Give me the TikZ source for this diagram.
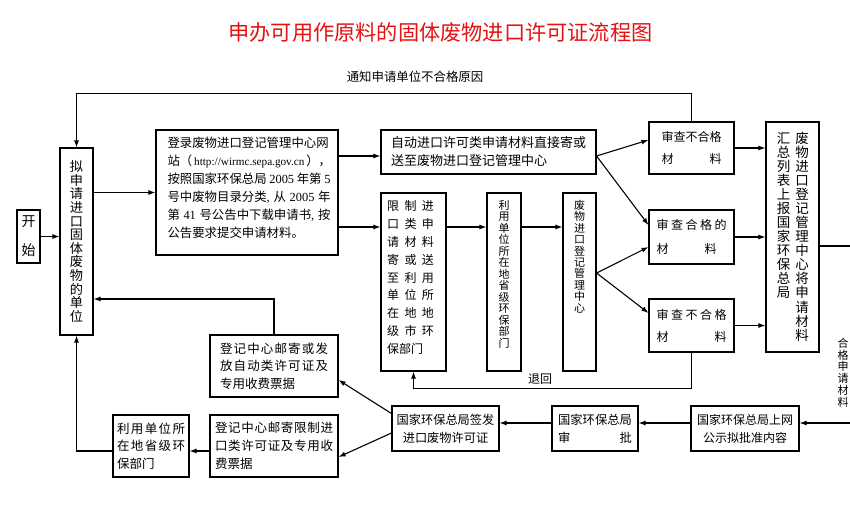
\documentclass[tikz,border=0pt]{standalone}
\usepackage{fontspec}
\setmainfont{Noto Sans CJK SC}
\newfontfamily\lat{Liberation Serif}
\usetikzlibrary{arrows.meta,calc}
\definecolor{titlered}{RGB}{228,18,18}
\def\spreadaux#1#2{#1\ifx\relax#2\else\hfill\expandafter\spreadaux\expandafter#2\fi}
\newcommand\spreadto[2]{\makebox[#1][s]{\spreadaux#2\relax}}
\begin{document}
\begin{tikzpicture}[x=1pt,y=-1pt,
  box/.style={draw, line width=1.1pt, inner sep=0pt},
  arr/.style={line width=1.1pt, -{Latex[length=7pt,width=5pt]}},
  txt/.style={inner sep=0pt, align=left},
  vtxt/.style={inner sep=0pt, align=center},
]
\useasboundingbox[fill=white] (0,0) rectangle (850,527);

% title and labels
\node[font=\fontsize{21.2}{21.2}\selectfont, text=titlered, inner sep=0pt] (title) at (440.5,32) {申办可用作原料的固体废物进口许可证流程图};
\node[font=\fontsize{12.4}{12.4}\selectfont, inner sep=0pt] (notice) at (415,77) {通知申请单位不合格原因};
\node[font=\fontsize{12}{12}\selectfont, inner sep=0pt] (back) at (540,379) {退回};
\node[vtxt, font=\fontsize{11}{11.8}\selectfont] (qual) at (843,372.5) {合\\格\\申\\请\\材\\料};

% left column
\node[box, minimum width=23pt, minimum height=53pt, font=\fontsize{14}{29}\selectfont, align=center] (start) at (28.5,236.5) {开\\始};
\node[box, minimum width=33pt, minimum height=187pt, font=\fontsize{13.2}{13.6}\selectfont, align=center] (apply) at (76.5,241.5) {拟\\申\\请\\进\\口\\固\\体\\废\\物\\的\\单\\位};

% login box
\node[box, minimum width=182pt, minimum height=125pt] (login) at (247,192.5) {};
\node[txt, font=\fontsize{12.4}{18}\selectfont] (loginT) at (249,188) {登录废物进口登记管理中心网\\
\makebox[163pt][s]{站（ {\lat\fontsize{11.2}{18}\selectfont http://wirmc.sepa.gov.cn} ），}\\
\makebox[163pt][s]{按照国家环保总局 {\lat 2005} 年第 {\lat 5}}\\
\makebox[163pt][s]{号中废物目录分类{\lat ,} 从 {\lat 2005} 年}\\
\makebox[163pt][s]{第 {\lat 41} 号公告中下载申请书{\lat ,} 按}\\
公告要求提交申请材料。};

% auto box
\node[box, minimum width=215pt, minimum height=44pt, font=\fontsize{13}{18}\selectfont, align=left] (auto) at (488.5,152) {自动进口许可类申请材料直接寄或\\送至废物进口登记管理中心};

% restrict box
\node[box, minimum width=65pt, minimum height=178pt] (restrict) at (413.5,282) {};
\node[txt, font=\fontsize{12}{17.9}\selectfont] (restrictT) at (410.5,277.5) {\spreadto{47pt}{限制进}\\\spreadto{47pt}{口类申}\\\spreadto{47pt}{请材料}\\\spreadto{47pt}{寄或送}\\\spreadto{47pt}{至利用}\\\spreadto{47pt}{单位所}\\\spreadto{47pt}{在地地}\\\spreadto{47pt}{级市环}\\保部门};

% provincial dept box
\node[box, minimum width=34pt, minimum height=178pt] (prov) at (504,282) {};
\node[vtxt, font=\fontsize{11}{11.5}\selectfont] (provT) at (504,274) {利\\用\\单\\位\\所\\在\\地\\省\\级\\环\\保\\部\\门};

% registration centre box
\node[box, minimum width=33pt, minimum height=178pt] (center) at (579.5,282) {};
\node[vtxt, font=\fontsize{11}{11.44}\selectfont] (centerT) at (579.5,256.5) {废\\物\\进\\口\\登\\记\\管\\理\\中\\心};

% review boxes
\node[box, minimum width=85pt, minimum height=52pt, font=\fontsize{12}{22}\selectfont, align=center] (rej1) at (691.5,148) {审查不合格\\\spreadto{60pt}{材料}};
\node[box, minimum width=85pt, minimum height=54pt, font=\fontsize{12}{24}\selectfont, align=left] (ok) at (691.5,237) {\spreadto{70pt}{审查合格的}\\\spreadto{60pt}{材料}};
\node[box, minimum width=85pt, minimum height=53pt, font=\fontsize{12}{22}\selectfont, align=center] (rej2) at (691.5,325.5) {\spreadto{70pt}{审查不合格}\\\spreadto{70pt}{材料}};

% summary box
\node[box, minimum width=53pt, minimum height=230pt] (summary) at (792.5,237) {};
\node[vtxt, font=\fontsize{13.5}{14.07}\selectfont] (sumR) at (802,236.5) {废\\物\\进\\口\\登\\记\\管\\理\\中\\心\\将\\申\\请\\材\\料};
\node[vtxt, font=\fontsize{13.5}{14.07}\selectfont] (sumL) at (783.5,215.5) {汇\\总\\列\\表\\上\\报\\国\\家\\环\\保\\总\\局};

% bottom row
\node[box, minimum width=108pt, minimum height=45pt, font=\fontsize{12}{18}\selectfont, align=center] (publicize) at (745,428.5) {国家环保总局上网\\公示拟批准内容};
\node[box, minimum width=86pt, minimum height=45pt, font=\fontsize{12.3}{18}\selectfont, align=center] (approve) at (595,428.5) {国家环保总局\\\spreadto{74pt}{审批}};
\node[box, minimum width=107pt, minimum height=45pt, font=\fontsize{12.2}{18}\selectfont, align=center] (issue) at (445.5,428.5) {国家环保总局签发\\进口废物许可证};
\node[box, minimum width=128pt, minimum height=62pt, font=\fontsize{12.5}{17.5}\selectfont, align=left] (mail1) at (274,366) {\spreadto{108pt}{登记中心邮寄或发}\\\spreadto{108pt}{放自动类许可证及}\\专用收费票据};
\node[box, minimum width=128pt, minimum height=62pt, font=\fontsize{12.5}{18}\selectfont, align=left] (mail2) at (274,446) {\spreadto{118pt}{登记中心邮寄限制进}\\\spreadto{118pt}{口类许可证及专用收}\\费票据};
\node[box, minimum width=76pt, minimum height=62pt, font=\fontsize{12.5}{17.5}\selectfont, align=left] (local) at (151,446) {\spreadto{68pt}{利用单位所}\\\spreadto{68pt}{在地省级环}\\保部门};

% connectors
\draw[arr] (start.east) -- (start.east -| apply.west);
\draw[arr] (apply.east |- login.west) -- (login.west);
\coordinate (la) at ([yshift=36.5pt]login.east);
\coordinate (lb) at ([yshift=-34.5pt]login.east);
\draw[arr] (la) -- (la -| auto.west);
\draw[arr] (lb) -- (lb -| restrict.west);
\draw[arr] (restrict.east |- lb) -- (prov.west |- lb);
\draw[arr] (prov.east |- lb) -- (center.west |- lb);
\coordinate (ao) at ([yshift=-4pt]auto.east);
\draw[arr] (ao) -- ([yshift=8pt]rej1.west);
\draw[arr] (ao) -- ([yshift=12pt]ok.west);
\coordinate (co) at ([yshift=9pt]center.east);
\draw[arr] (co) -- ([yshift=-10pt]ok.west);
\draw[arr] (co) -- ([yshift=12.5pt]rej2.west);
\draw[arr] (rej1.east) -- (rej1.east -| summary.west);
\draw[arr] (ok.east) -- (ok.east -| summary.west);
\draw[arr] (rej2.east) -- (rej2.east -| summary.west);
\draw[arr] (rej1.north) -- ++(0,-28) -| (apply.north);
\draw[arr] (rej2.south) -- ++(0,36) -| (restrict.south);
\coordinate (so) at ([yshift=-9pt]summary.east);
\coordinate (re) at (851,0);
\draw[arr] (so) -- (so -| re) |- ([yshift=5.5pt]publicize.east);
\draw[arr] ([yshift=5.5pt]publicize.west) -- ([yshift=5.5pt]approve.east);
\draw[arr] ([yshift=5.5pt]approve.west) -- ([yshift=5.5pt]issue.east);
\draw[arr] ([yshift=15pt]issue.west) -- ([yshift=-14pt]mail1.east);
\draw[arr] ([yshift=-4.5pt]issue.west) -- ([yshift=-11pt]mail2.east);
\draw[arr] ([yshift=-5pt]mail2.west) -- ([yshift=-5pt]local.east);
\draw[arr] ([yshift=-5pt]local.west) -| (apply.south);
\draw[arr] (mail1.north) |- ([yshift=-57.5pt]apply.east);
\end{tikzpicture}
\end{document}
